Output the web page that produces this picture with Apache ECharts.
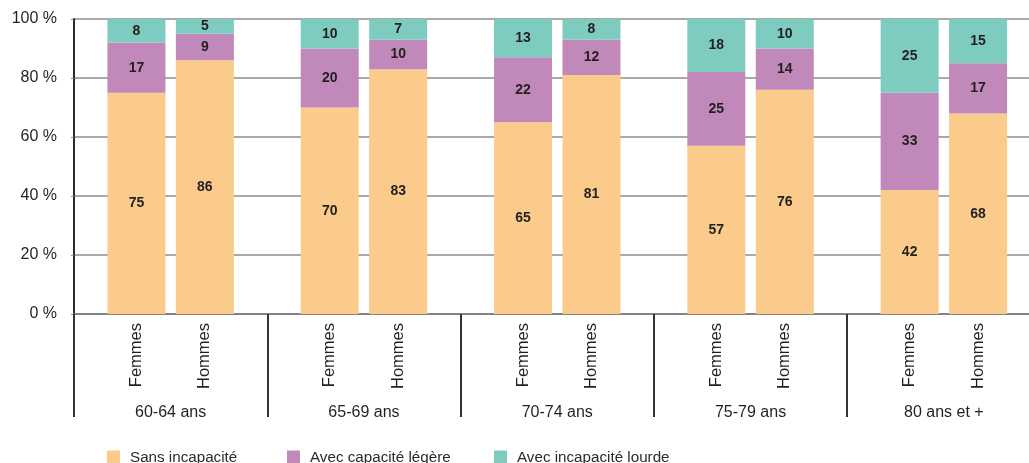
<!DOCTYPE html>
<html>
<head>
<meta charset="utf-8">
<title>Incapacité selon l'âge et le sexe</title>
<script src="https://cdn.jsdelivr.net/npm/echarts@6/dist/echarts.min.js"></script>
<style>
  html, body { margin: 0; padding: 0; background: #ffffff; }
  #chart { width: 1029px; height: 463px; }
</style>
</head>
<body>
<div id="chart"></div>
<script>
// Age groups on the x axis, two bars (women / men) per group
const ageGroups = ['60-64 ans', '65-69 ans', '70-74 ans', '75-79 ans', '80 ans et +'];
const sexes = ['Femmes', 'Hommes'];
const levels = ['Sans incapacité', 'Avec capacité légère', 'Avec incapacité lourde'];

// Shares in %, per age group
const femmesSans   = [75, 70, 65, 57, 42];
const femmesLegere = [17, 20, 22, 25, 33];
const femmesLourde = [8, 10, 13, 18, 25];
const hommesSans   = [86, 83, 81, 76, 68];
const hommesLegere = [9, 10, 12, 14, 17];
const hommesLourde = [5, 7, 8, 10, 15];

// Y axis ticks
const yMin = 0, yMax = 100, yStep = 20;

const colors = ['#FBCB8B', '#C188BA', '#7ECBC0'];
const FONT = '"Liberation Sans", Arial, Helvetica, sans-serif';
const INK = '#231f20';
const BAR_W = 58;

const valuesBySex = {
  Femmes: [femmesSans, femmesLegere, femmesLourde],
  Hommes: [hommesSans, hommesLegere, hommesLourde]
};

const series = [];
sexes.forEach(function (sex) {
  // zero-height bar carrying the rotated sex label under each bar
  series.push({
    name: sex,
    type: 'bar',
    stack: sex,
    barWidth: BAR_W,
    barGap: '18%',
    silent: true,
    legendHoverLink: false,
    itemStyle: { color: 'rgba(0,0,0,0)' },
    label: {
      show: true,
      position: 'bottom',
      distance: 9,
      rotate: 90,
      align: 'right',
      verticalAlign: 'middle',
      formatter: sex,
      fontFamily: FONT,
      fontSize: 16.5,
      color: INK
    },
    data: ageGroups.map(function () { return 0; })
  });
  valuesBySex[sex].forEach(function (vals, i) {
    series.push({
      name: levels[i],
      type: 'bar',
      stack: sex,
      barWidth: BAR_W,
      barGap: '18%',
      itemStyle: { color: colors[i] },
      label: {
        show: true,
        position: 'inside',
        fontFamily: FONT,
        fontSize: 14,
        fontWeight: 'bold',
        color: INK
      },
      data: vals
    });
  });
});

// one legend entry per level, each with its own left edge
const legendLefts = [107, 287, 494];
const legends = levels.map(function (name, i) {
  return {
    data: [name],
    left: legendLefts[i],
    top: 450,
    icon: 'rect',
    itemWidth: 13,
    itemHeight: 14,
    padding: 0,
    selectedMode: false,
    textStyle: {
      fontFamily: FONT,
      fontSize: 15.2,
      color: '#2b2b2b',
      padding: [0, 0, 0, 5]
    }
  };
});

const chart = echarts.init(document.getElementById('chart'), null, { renderer: 'canvas' });
chart.setOption({
  animation: false,
  backgroundColor: '#ffffff',
  textStyle: { fontFamily: FONT },
  color: colors,
  grid: {
    left: 74,
    top: 19,
    width: 966.5,
    height: 295,
    containLabel: false,
    outerBoundsMode: 'none'
  },
  legend: legends,
  xAxis: {
    type: 'category',
    data: ageGroups,
    boundaryGap: true,
    axisLine: { show: true, lineStyle: { color: '#777777', width: 1.5 } },
    axisTick: {
      show: true,
      length: 103,
      lineStyle: { color: '#333333', width: 2 }
    },
    axisLabel: {
      margin: 91,
      fontFamily: FONT,
      fontSize: 16,
      color: INK
    },
    splitLine: { show: false }
  },
  yAxis: {
    type: 'value',
    min: yMin,
    max: yMax,
    interval: yStep,
    axisLine: { show: true, lineStyle: { color: '#2a2a2a', width: 2 } },
    axisTick: { show: true, length: 3, lineStyle: { color: '#888888' } },
    axisLabel: {
      margin: 17,
      formatter: '{value} %',
      fontFamily: FONT,
      fontSize: 16,
      color: INK
    },
    splitLine: { show: true, lineStyle: { color: '#8c8c8c', width: 1.5 } }
  },
  series: series
});
</script>
</body>
</html>
